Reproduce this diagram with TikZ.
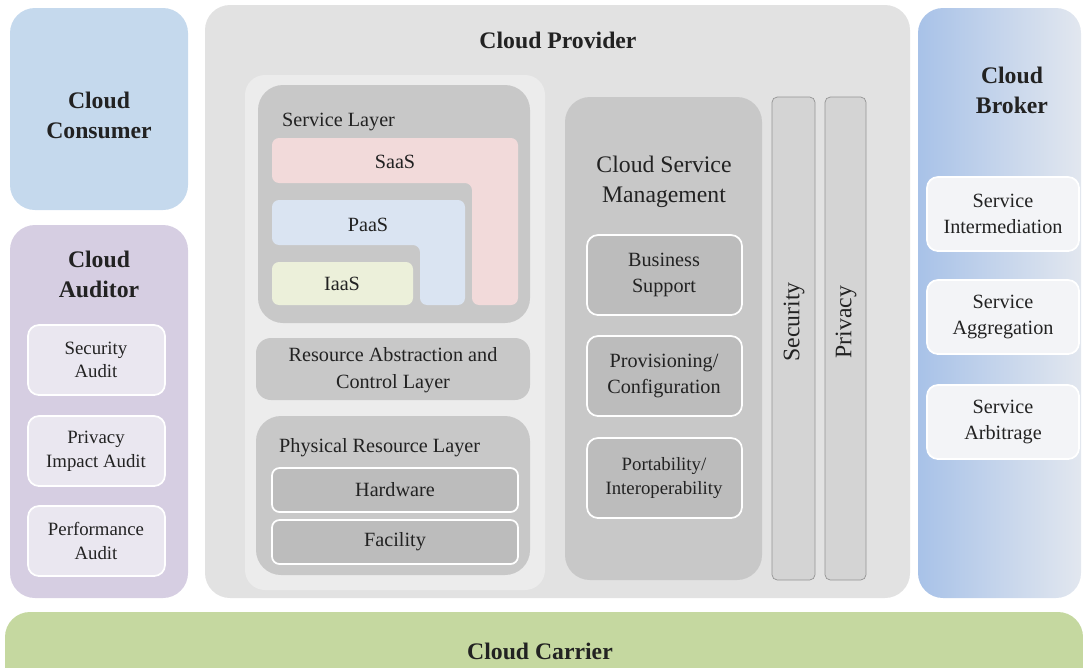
\documentclass[tikz,border=0pt]{standalone}
\usepackage{fontspec}
\setmainfont{Liberation Serif}
\usetikzlibrary{positioning}

\definecolor{consumer}{RGB}{197,217,237}
\definecolor{auditor}{RGB}{214,206,226}
\definecolor{auditbox}{RGB}{234,231,240}
\definecolor{provgray}{RGB}{226,226,226}
\definecolor{panelgray}{RGB}{236,236,236}
\definecolor{layergray}{RGB}{200,200,200}
\definecolor{boxgray}{RGB}{188,188,188}
\definecolor{bargray}{RGB}{212,212,212}
\definecolor{saas}{RGB}{242,218,218}
\definecolor{paas}{RGB}{218,228,242}
\definecolor{iaas}{RGB}{236,240,218}
\definecolor{brokerL}{RGB}{168,194,232}
\definecolor{brokerR}{RGB}{226,231,239}
\definecolor{brokerbox}{RGB}{243,244,247}
\definecolor{carrier}{RGB}{197,216,160}
\definecolor{ink}{RGB}{34,34,34}

\tikzset{
  ttl/.style={font=\fontsize{13.5}{17}\selectfont\bfseries, align=center, text=ink},
  lbl/.style={font=\fontsize{11.5}{15}\selectfont, align=center, text=ink},
  big/.style={font=\fontsize{13.5}{17}\selectfont, align=center, text=ink},
  sml/.style={font=\fontsize{10.7}{13.5}\selectfont, align=center, text=ink},
  panel/.style={rounded corners=0.5cm},
  box/.style={rounded corners=0.22cm, draw=white, line width=1pt},
}

\begin{document}
\begin{tikzpicture}[x=0.02cm, y=-0.02cm]

  \useasboundingbox (0,0) rectangle (1083,667);
  \clip (0,0) rectangle (1083,667);

	%cloud consumer
  \fill[panel, consumer] (10,8) rectangle (188,210);
  \node[ttl] (cons) at (99,115) {Cloud\\Consumer};

	%cloud auditor
  \fill[panel, auditor] (10,225) rectangle (188,598);
  \node[ttl] (aud) at (99,274) {Cloud\\Auditor};

    \foreach \y/\txt/\name in {360/Security\\Audit/aud1, 451/Privacy\\Impact Audit/aud2, 541/Performance\\Audit/aud3}{
         \draw[box, fill=auditbox] (28,\y-35) rectangle (165,\y+35);
         \node[sml] (\name) at (96,\y) {\txt};
    }

	%cloud provider
  \fill[panel, provgray] (205,5) rectangle (910,598);
  \node[ttl] (prov) at (558,40) {Cloud Provider};
  \fill[rounded corners=0.4cm, panelgray] (245,75) rectangle (545,590);

	%service layer
  \fill[panel, layergray] (258,85) rectangle (530,323);
  \node[lbl, anchor=west] (sl) at (276,122) {Service Layer};

  \fill[saas, rounded corners=4pt] (272,138) -- (518,138) -- (518,305) -- (472,305) -- (472,183) -- (272,183) -- cycle;
  \node[lbl] (saasn) at (395,162) {SaaS};
  \fill[paas, rounded corners=4pt] (272,200) -- (465,200) -- (465,305) -- (420,305) -- (420,245) -- (272,245) -- cycle;
  \node[lbl] (paasn) at (368,225) {PaaS};
  \fill[iaas, rounded corners=4pt] (272,262) rectangle (413,305);
  \node[lbl] (iaasn) at (342,284) {IaaS};

	%resource abstraction
  \fill[rounded corners=0.3cm, layergray] (256,338) rectangle (530,400);
  \node[lbl] (ra) at (393,370) {Resource Abstraction and\\Control Layer};

	%physical layer
  \fill[panel, layergray] (256,416) rectangle (530,575);
  \node[lbl, anchor=west] (pr) at (273,448) {Physical Resource Layer};

    \foreach \y/\txt/\name in {490/Hardware/hw, 542/Facility/fac}{
         \draw[box, fill=boxgray, rounded corners=0.15cm] (272,\y-22) rectangle (518,\y+22);
         \node[lbl] (\name) at (395,\y) {\txt};
    }

	%cloud service management
  \fill[panel, layergray] (565,97) rectangle (762,580);
  \node[big] (csm) at (664,182) {Cloud Service\\Management};

    \foreach \y/\txt/\name/\st in {275/Business\\Support/bs/lbl, 376/{Provisioning/\\Configuration}/pc/lbl, 478/{Portability/\\Interoperability}/pi/sml}{
         \draw[box, fill=boxgray] (587,\y-40) rectangle (742,\y+40);
         \node[\st] (\name) at (664,\y) {\txt};
    }

	%security and privacy
  \draw[bargray!70!black, fill=bargray, rounded corners=3pt] (772,97) rectangle (815,580);
  \node[big, rotate=90] (sec) at (794,322) {Security};
  \draw[bargray!70!black, fill=bargray, rounded corners=3pt] (825,97) rectangle (866,580);
  \node[big, rotate=90] (priv) at (846,322) {Privacy};

	%cloud broker
  \shade[panel, left color=brokerL, right color=brokerR] (918,8) rectangle (1081,598);
  \node[ttl] (brk) at (1012,90) {Cloud\\Broker};

    \foreach \y/\txt/\name in {214/Service\\Intermediation/brk1, 317/Service\\Aggregation/brk2, 422/Service\\Arbitrage/brk3}{
         \draw[box, fill=brokerbox] (927,\y-37) rectangle (1079,\y+37);
         \node[lbl] (\name) at (1003,\y) {\txt};
    }

	%cloud carrier
  \fill[panel, carrier] (5,612) rectangle (1083,700);
  \node[ttl] (carr) at (540,651) {Cloud Carrier};

\end{tikzpicture}
\end{document}
